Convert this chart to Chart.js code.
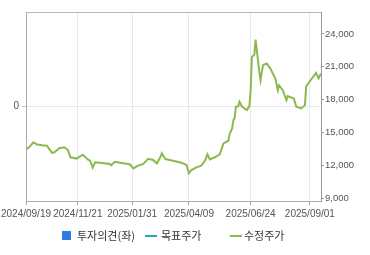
<!DOCTYPE html>
<html>
<head>
<meta charset="utf-8">
<script src="https://cdn.jsdelivr.net/npm/chart.js"></script>
<style>
  html, body { margin: 0; padding: 0; background: #fff; }
  #wrap { position: relative; width: 370px; height: 255px; }
  #legend { position: absolute; left: 0; top: 0; width: 370px; height: 255px; pointer-events: none;
            font-family: "Noto Sans CJK KR", sans-serif; font-size: 11px; color: #333; }
  #legend span { position: absolute; }
  #legend .txt { top: 228px; line-height: 15px; white-space: nowrap; }
</style>
</head>
<body>
<div id="wrap">
  <canvas id="priceChart" width="370" height="255"></canvas>
  <div id="legend">
    <span style="left:62px;top:231px;width:9px;height:9px;background:#2f7de1"></span>
    <span class="txt" style="left:77px">투자의견(좌)</span>
    <span style="left:145px;top:235px;width:12px;height:2px;background:#22a9c0"></span>
    <span class="txt" style="left:161px">목표주가</span>
    <span style="left:230px;top:235px;width:12px;height:2px;background:#8cb94e"></span>
    <span class="txt" style="left:244px">수정주가</span>
  </div>
</div>
<script>
// trading-day index of each read point, and the adjusted price there
const days = [0, 3, 6, 9, 13, 17, 21, 23, 27, 31, 34, 36, 41, 46, 50, 52, 54, 56, 60, 68, 69, 72, 76, 84, 87, 90, 95,
  99, 103, 106, 109, 110, 113, 119, 126, 130, 132, 134, 138, 142, 145, 147, 149, 153, 157, 160, 164, 165, 167, 168,
  169, 170, 172, 173, 175, 179, 181, 182, 183, 185, 186, 187, 189, 190, 192, 195, 198, 202, 204, 205, 208, 211, 212,
  217, 219, 223, 226, 227, 231, 235, 237, 239];
const prices = [13450, 13700, 14100, 13900, 13830, 13790, 13150, 13200, 13560, 13650, 13400, 12740, 12620, 12980, 12550,
  12430, 11790, 12280, 12240, 12130, 12000, 12330, 12240, 12100, 11730, 11940, 12130, 12600, 12490, 12190, 12790,
  13100, 12580, 12430, 12240, 12040, 11280, 11580, 11820, 11970, 12430, 13010, 12550, 12740, 13010, 14010, 14250,
  14860, 15380, 16130, 16290, 17350, 17410, 17800, 17350, 17050, 17410, 18870, 21900, 22120, 23480, 22510, 20530,
  19780, 21150, 21300, 20840, 19930, 18870, 19320, 18870, 17960, 18320, 18110, 17350, 17200, 17500, 19230, 19840,
  20440, 19930, 20390];

// x-axis date labels and the trading day they sit on
const dateLabels = ['2024/09/19', '2024/11/21', '2025/01/31', '2025/04/09', '2025/06/24', '2025/09/01'];
const dateDays = [0, 42, 86, 132, 182, 230];
const priceTicks = [9000, 12000, 15000, 18000, 21000, 24000];
const opinionTicks = [0];

const font = 'Liberation Sans, Arial, sans-serif';

const framePlugin = {
  id: 'frame',
  beforeDatasetsDraw(chart) {
    const a = chart.chartArea, ctx = chart.ctx;
    ctx.save();
    ctx.strokeStyle = '#b8b8b8';
    ctx.lineWidth = 1;
    ctx.beginPath();
    ctx.moveTo(a.left, a.top + 0.5);
    ctx.lineTo(a.right, a.top + 0.5);
    ctx.stroke();
    ctx.restore();
  }
};

new Chart(document.getElementById('priceChart'), {
  type: 'line',
  data: {
    datasets: [{
      label: '수정주가',
      data: days.map((d, i) => ({ x: d, y: prices[i] })),
      yAxisID: 'y1',
      borderColor: '#8cb94e',
      borderWidth: 2,
      pointRadius: 0,
      tension: 0
    }]
  },
  options: {
    responsive: false,
    animation: false,
    devicePixelRatio: 1,
    layout: { padding: { top: 12, left: 0, right: 0, bottom: 0 } },
    plugins: { legend: { display: false }, tooltip: { enabled: false } },
    scales: {
      x: {
        type: 'linear',
        min: 0,
        max: 239,
        afterBuildTicks: s => { s.ticks = dateDays.map(v => ({ value: v })); },
        afterFit: s => { s.height = 54; s.paddingLeft = 0; s.paddingRight = 0; },
        ticks: {
          maxRotation: 0,
          autoSkip: false,
          padding: 3,
          color: '#555',
          font: { family: font, size: 10 },
          callback: v => dateLabels[dateDays.indexOf(v)]
        },
        grid: { color: '#e8e8e8', tickLength: 4, tickColor: '#aaa' },
        border: { color: '#aaa' }
      },
      y0: {
        position: 'left',
        min: -1,
        max: 1,
        afterBuildTicks: s => { s.ticks = opinionTicks.map(v => ({ value: v })); },
        afterFit: s => { s.width = 26; },
        ticks: { color: '#555', font: { family: font, size: 10 }, padding: 3 },
        grid: { color: '#e8e8e8', tickLength: 4, tickColor: '#ccc' },
        border: { color: '#aaa' }
      },
      y1: {
        position: 'right',
        min: 8750,
        max: 26000,
        afterBuildTicks: s => { s.ticks = priceTicks.map(v => ({ value: v })); },
        afterFit: s => { s.width = 49; },
        ticks: {
          color: '#555',
          font: { family: font, size: 9.5 },
          padding: 1,
          callback: v => v.toLocaleString('en-US')
        },
        grid: { drawOnChartArea: false, tickLength: 3, tickColor: '#999' },
        border: { color: '#999' }
      }
    }
  },
  plugins: [framePlugin]
});
</script>
</body>
</html>
